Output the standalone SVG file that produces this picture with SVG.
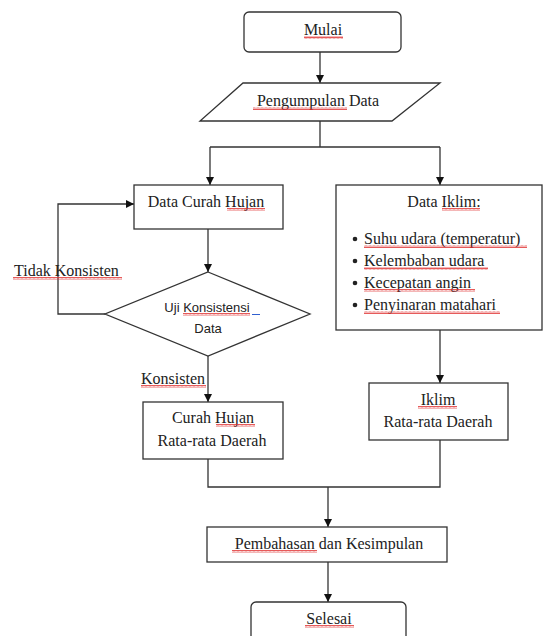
<svg xmlns="http://www.w3.org/2000/svg" width="544" height="636" viewBox="0 0 544 636">
<defs>
<marker id="ah" viewBox="0 0 10 10" refX="10" refY="5" markerWidth="8" markerHeight="8" markerUnits="userSpaceOnUse" orient="auto">
<path d="M0,0 L10,5 L0,10 z" fill="#111"/>
</marker>
<pattern id="wv" width="4" height="3" patternUnits="userSpaceOnUse">
<path d="M0,2.5 L1,0.5 L2,2.5 L3,0.5 L4,2.5" fill="none" stroke="#e03030" stroke-width="0.8"/>
</pattern>
</defs>
<style>
.box{fill:#fff;stroke:#333;stroke-width:1.3}
.ln{fill:none;stroke:#333;stroke-width:1.3}
.arr{fill:none;stroke:#333;stroke-width:1.3;marker-end:url(#ah)}
.t{font-family:"Liberation Serif","Times New Roman",serif;font-size:16px;fill:#222}
.c{text-anchor:middle}
.s{font-family:"Liberation Sans",Arial,sans-serif;font-size:13px;fill:#222;text-anchor:middle}
.sq{fill:url(#wv)}
</style>
<rect width="544" height="636" fill="#fff"/>
<g id="connectors">
<path class="arr" d="M320,52 V83"/>
<path class="ln" d="M320,121 V147 M210,147 H440"/>
<path class="arr" d="M210,147 V185"/>
<path class="arr" d="M440,147 V185"/>
<path class="arr" d="M208,229 V272"/>
<path class="arr" d="M105,314 H58 V204 H134"/>
<path class="arr" d="M208,356 V402"/>
<path class="arr" d="M440,330 V383"/>
<path class="ln" d="M208,459 V487 H440 V440"/>
<path class="arr" d="M328,487 V527"/>
<path class="arr" d="M328,562 V602"/>
<text class="t" x="14" y="276">Tidak Konsisten</text>
<rect class="sq" x="13" y="277" width="109" height="3"/>
<text class="t" x="141" y="384">Konsisten</text>
<rect class="sq" x="141" y="385" width="65" height="3"/>
</g>
<g id="mulai">
<rect class="box" x="244" y="12" width="157" height="40" rx="5"/>
<text class="t c" x="323" y="35">Mulai</text>
<rect class="sq" x="304" y="36" width="39" height="3"/>
</g>
<g id="pengumpulan">
<polygon class="box" points="243,83 440,83 392,121 200,121"/>
<text class="t c" x="318" y="106">Pengumpulan Data</text>
<rect class="sq" x="253" y="107" width="94" height="3"/>
</g>
<g id="curah">
<rect class="box" x="134" y="185" width="149" height="44"/>
<text class="t c" x="206" y="207">Data Curah Hujan</text>
<rect class="sq" x="227" y="208" width="38" height="3"/>
</g>
<g id="uji">
<polygon class="box" points="208,272 310,314 208,356 105,314"/>
<text class="s" x="207" y="312">Uji Konsistensi</text>
<rect class="sq" x="183" y="313" width="67" height="3"/>
<line x1="252" y1="314.5" x2="260" y2="314.5" stroke="#3060d0" stroke-width="1"/>
<text class="s" x="208" y="333">Data</text>
</g>
<g id="iklim">
<rect class="box" x="336" y="185" width="206" height="145"/>
<text class="t c" x="444" y="207">Data Iklim:</text>
<rect class="sq" x="442" y="208" width="38" height="3"/>
<g class="t">
<circle cx="355" cy="239" r="2.3" fill="#222"/>
<text x="364" y="244">Suhu udara (temperatur)</text>
<circle cx="355" cy="261" r="2.3" fill="#222"/>
<text x="364" y="266">Kelembaban udara</text>
<circle cx="355" cy="283" r="2.3" fill="#222"/>
<text x="364" y="288">Kecepatan angin</text>
<circle cx="355" cy="305" r="2.3" fill="#222"/>
<text x="364" y="310">Penyinaran matahari</text>
</g>
<rect class="sq" x="364" y="245" width="163" height="3"/>
<rect class="sq" x="364" y="267" width="124" height="3"/>
<rect class="sq" x="364" y="289" width="111" height="3"/>
<rect class="sq" x="364" y="311" width="136" height="3"/>
</g>
<g id="curah-rata">
<rect class="box" x="143" y="402" width="140" height="57"/>
<text class="t c" x="213" y="423">Curah Hujan</text>
<rect class="sq" x="216" y="424" width="39" height="3"/>
<text class="t c" x="212" y="446">Rata-rata Daerah</text>
</g>
<g id="iklim-rata">
<rect class="box" x="369" y="383" width="139" height="57"/>
<text class="t c" x="438" y="405">Iklim</text>
<rect class="sq" x="418" y="406" width="39" height="3"/>
<text class="t c" x="438" y="427">Rata-rata Daerah</text>
</g>
<g id="pembahasan">
<rect class="box" x="207" y="527" width="240" height="35"/>
<text class="t c" x="329" y="549">Pembahasan dan Kesimpulan</text>
<rect class="sq" x="232" y="550" width="85" height="3"/>
</g>
<g id="selesai">
<rect class="box" x="251" y="602" width="155" height="50" rx="5"/>
<text class="t c" x="329" y="624">Selesai</text>
<rect class="sq" x="305" y="625" width="49" height="3"/>
</g>
</svg>
